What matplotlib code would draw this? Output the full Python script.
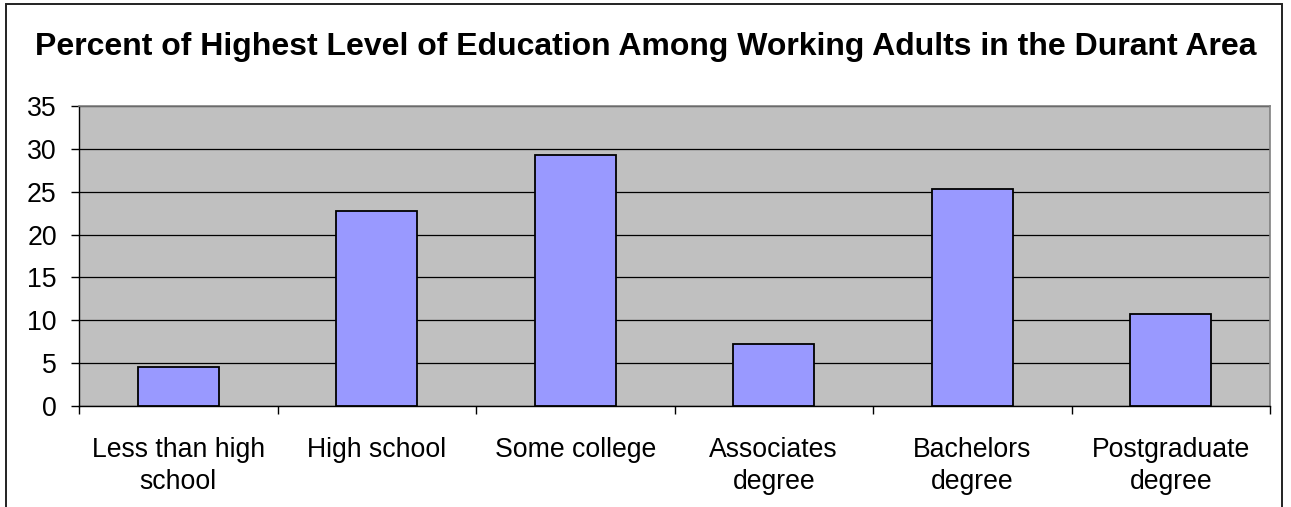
import matplotlib

matplotlib.use("Agg")
import matplotlib.pyplot as plt
from matplotlib.patches import Rectangle

# Highest education level, percent of working adults
categories = [
    "Less than high\nschool",
    "High school",
    "Some college",
    "Associates\ndegree",
    "Bachelors\ndegree",
    "Postgraduate\ndegree",
]
percents = [4.6, 22.7, 29.3, 7.2, 25.3, 10.7]
y_ticks = [0, 5, 10, 15, 20, 25, 30, 35]

plt.rcParams["font.family"] = ["Liberation Sans", "DejaVu Sans"]

fig = plt.figure(figsize=(12.91, 5.07), dpi=100)
ax = fig.add_axes([79 / 1291, 1 - 406 / 507, 1191 / 1291, 300 / 507])
ax.set_facecolor("#C0C0C0")

# chart frame around everything (runs off the bottom edge)
fig.patches.append(
    Rectangle((6 / 1291, -0.05), 1276 / 1291, 1.05 - 4 / 507,
              transform=fig.transFigure, fill=False,
              edgecolor="#222222", linewidth=1.4, zorder=0)
)

x = list(range(len(categories)))
ax.bar(x, percents, width=0.41, color="#9999FF",
       edgecolor="black", linewidth=1.3, zorder=3)

ax.set_xlim(-0.5, len(categories) - 0.5)
ax.set_ylim(0, 35)
ax.set_yticks(y_ticks)
ax.yaxis.grid(True, color="black", linewidth=0.9, zorder=1)
ax.set_axisbelow(True)

# category boundaries get the tick marks, labels sit between them
ax.set_xticks([i - 0.5 for i in range(len(categories) + 1)])
ax.set_xticklabels([])
ax.set_xticks(x, minor=True)
ax.set_xticklabels(categories, minor=True, fontsize=19.2, linespacing=1.3)
ax.tick_params(axis="x", which="major", direction="out", length=6,
               width=1, color="black")
ax.tick_params(axis="x", which="minor", length=0, pad=22)
ax.tick_params(axis="y", direction="out", length=6, width=1,
               labelsize=19.2, pad=10)

for side in ("top", "right"):
    ax.spines[side].set_color("#808080")
    ax.spines[side].set_linewidth(1.2)
for side in ("left", "bottom"):
    ax.spines[side].set_color("black")
    ax.spines[side].set_linewidth(1)

fig.text(0.5, 1 - 47 / 507,
         "Percent of Highest Level of Education Among Working Adults in the Durant Area",
         ha="center", va="center", fontsize=23, fontweight="bold")

fig.savefig("out.png", dpi=100)
